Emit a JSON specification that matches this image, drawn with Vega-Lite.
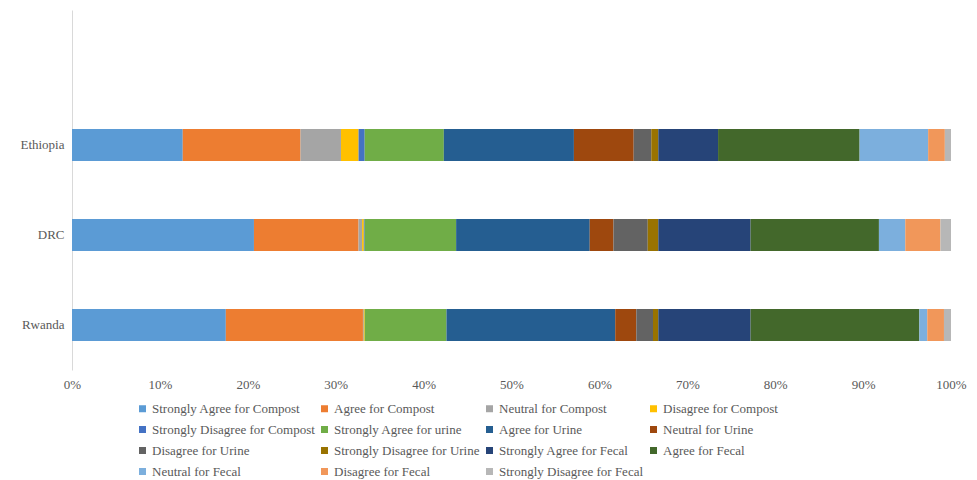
{
  "$schema": "https://vega.github.io/schema/vega-lite/v6.json",
  "width": 879,
  "height": 360,
  "autosize": {"type": "none"},
  "padding": {"left": 72, "top": 10, "right": 26, "bottom": 110},
  "background": "white",
  "config": {
    "view": {"stroke": null},
    "font": "Liberation Serif"
  },
  "data": {
    "values": [
      {"country": "Ethiopia", "idx": 1, "category": "Strongly Agree for Compost", "value": 12.6},
      {"country": "Ethiopia", "idx": 2, "category": "Agree for Compost", "value": 13.4},
      {"country": "Ethiopia", "idx": 3, "category": "Neutral for Compost", "value": 4.6},
      {"country": "Ethiopia", "idx": 4, "category": "Disagree for Compost", "value": 2.0},
      {"country": "Ethiopia", "idx": 5, "category": "Strongly Disagree for Compost", "value": 0.7},
      {"country": "Ethiopia", "idx": 6, "category": "Strongly Agree for urine", "value": 9.0},
      {"country": "Ethiopia", "idx": 7, "category": "Agree for Urine", "value": 14.8},
      {"country": "Ethiopia", "idx": 8, "category": "Neutral for Urine", "value": 6.8},
      {"country": "Ethiopia", "idx": 9, "category": "Disagree for Urine", "value": 2.0},
      {"country": "Ethiopia", "idx": 10, "category": "Strongly Disagree for Urine", "value": 0.8},
      {"country": "Ethiopia", "idx": 11, "category": "Strongly Agree for Fecal", "value": 6.8},
      {"country": "Ethiopia", "idx": 12, "category": "Agree for Fecal", "value": 16.1},
      {"country": "Ethiopia", "idx": 13, "category": "Neutral for Fecal", "value": 7.8},
      {"country": "Ethiopia", "idx": 14, "category": "Disagree for Fecal", "value": 1.9},
      {"country": "Ethiopia", "idx": 15, "category": "Strongly Disagree for Fecal", "value": 0.7},
      {"country": "DRC", "idx": 1, "category": "Strongly Agree for Compost", "value": 20.7},
      {"country": "DRC", "idx": 2, "category": "Agree for Compost", "value": 11.9},
      {"country": "DRC", "idx": 3, "category": "Neutral for Compost", "value": 0.4},
      {"country": "DRC", "idx": 4, "category": "Disagree for Compost", "value": 0.2},
      {"country": "DRC", "idx": 5, "category": "Strongly Disagree for Compost", "value": 0.1},
      {"country": "DRC", "idx": 6, "category": "Strongly Agree for urine", "value": 10.4},
      {"country": "DRC", "idx": 7, "category": "Agree for Urine", "value": 15.2},
      {"country": "DRC", "idx": 8, "category": "Neutral for Urine", "value": 2.7},
      {"country": "DRC", "idx": 9, "category": "Disagree for Urine", "value": 3.9},
      {"country": "DRC", "idx": 10, "category": "Strongly Disagree for Urine", "value": 1.2},
      {"country": "DRC", "idx": 11, "category": "Strongly Agree for Fecal", "value": 10.5},
      {"country": "DRC", "idx": 12, "category": "Agree for Fecal", "value": 14.6},
      {"country": "DRC", "idx": 13, "category": "Neutral for Fecal", "value": 3.0},
      {"country": "DRC", "idx": 14, "category": "Disagree for Fecal", "value": 4.0},
      {"country": "DRC", "idx": 15, "category": "Strongly Disagree for Fecal", "value": 1.2},
      {"country": "Rwanda", "idx": 1, "category": "Strongly Agree for Compost", "value": 17.5},
      {"country": "Rwanda", "idx": 2, "category": "Agree for Compost", "value": 15.6},
      {"country": "Rwanda", "idx": 3, "category": "Neutral for Compost", "value": 0.1},
      {"country": "Rwanda", "idx": 4, "category": "Disagree for Compost", "value": 0.1},
      {"country": "Rwanda", "idx": 5, "category": "Strongly Disagree for Compost", "value": 0.0},
      {"country": "Rwanda", "idx": 6, "category": "Strongly Agree for urine", "value": 9.3},
      {"country": "Rwanda", "idx": 7, "category": "Agree for Urine", "value": 19.2},
      {"country": "Rwanda", "idx": 8, "category": "Neutral for Urine", "value": 2.4},
      {"country": "Rwanda", "idx": 9, "category": "Disagree for Urine", "value": 1.9},
      {"country": "Rwanda", "idx": 10, "category": "Strongly Disagree for Urine", "value": 0.6},
      {"country": "Rwanda", "idx": 11, "category": "Strongly Agree for Fecal", "value": 10.5},
      {"country": "Rwanda", "idx": 12, "category": "Agree for Fecal", "value": 19.2},
      {"country": "Rwanda", "idx": 13, "category": "Neutral for Fecal", "value": 0.9},
      {"country": "Rwanda", "idx": 14, "category": "Disagree for Fecal", "value": 1.9},
      {"country": "Rwanda", "idx": 15, "category": "Strongly Disagree for Fecal", "value": 0.8}
    ]
  },
  "mark": {"type": "bar"},
  "encoding": {
    "y": {
      "field": "country",
      "type": "nominal",
      "scale": {"domain": [" ", "Ethiopia", "DRC", "Rwanda"], "paddingInner": 0.644, "paddingOuter": 0.322},
      "axis": {
        "title": null,
        "ticks": false,
        "domainColor": "#d9d9d9",
        "labelColor": "#595959",
        "labelFontSize": 13,
        "labelPadding": 8,
        "labelFont": "Liberation Serif"
      }
    },
    "x": {
      "field": "value",
      "type": "quantitative",
      "stack": "normalize",
      "scale": {"domain": [0, 1]},
      "axis": {
        "title": null,
        "format": ".0%",
        "values": [0, 0.1, 0.2, 0.3, 0.4, 0.5, 0.6, 0.7, 0.8, 0.9, 1.0],
        "grid": false,
        "domain": false,
        "ticks": false,
        "labelColor": "#595959",
        "labelFontSize": 13,
        "labelPadding": 8,
        "labelFont": "Liberation Serif",
        "labelFlush": false
      }
    },
    "order": {"field": "idx", "type": "quantitative", "sort": "ascending"},
    "color": {
      "field": "category",
      "type": "nominal",
      "sort": [
        "Strongly Agree for Compost", "Agree for Compost", "Neutral for Compost", "Disagree for Compost",
        "Strongly Disagree for Compost", "Strongly Agree for urine", "Agree for Urine", "Neutral for Urine",
        "Disagree for Urine", "Strongly Disagree for Urine", "Strongly Agree for Fecal", "Agree for Fecal",
        "Neutral for Fecal", "Disagree for Fecal", "Strongly Disagree for Fecal"
      ],
      "scale": {
        "domain": [
          "Strongly Agree for Compost", "Agree for Compost", "Neutral for Compost", "Disagree for Compost",
          "Strongly Disagree for Compost", "Strongly Agree for urine", "Agree for Urine", "Neutral for Urine",
          "Disagree for Urine", "Strongly Disagree for Urine", "Strongly Agree for Fecal", "Agree for Fecal",
          "Neutral for Fecal", "Disagree for Fecal", "Strongly Disagree for Fecal"
        ],
        "range": [
          "#5B9BD5", "#ED7D31", "#A5A5A5", "#FFC000", "#4472C4", "#70AD47", "#255E91", "#9E480E",
          "#636363", "#997300", "#264478", "#43682B", "#7CAFDD", "#F1975A", "#B7B7B7"
        ]
      },
      "legend": {
        "title": null,
        "orient": "none",
        "legendX": 64,
        "legendY": 392,
        "direction": "horizontal",
        "columns": 4,
        "symbolType": "square",
        "symbolSize": 49,
        "symbolStrokeWidth": 0,
        "labelFont": "Liberation Serif",
        "labelFontSize": 13,
        "labelColor": "#595959",
        "labelOffset": 3,
        "labelLimit": 300,
        "rowPadding": 7,
        "columnPadding": 3,
        "padding": 0
      }
    }
  }
}
